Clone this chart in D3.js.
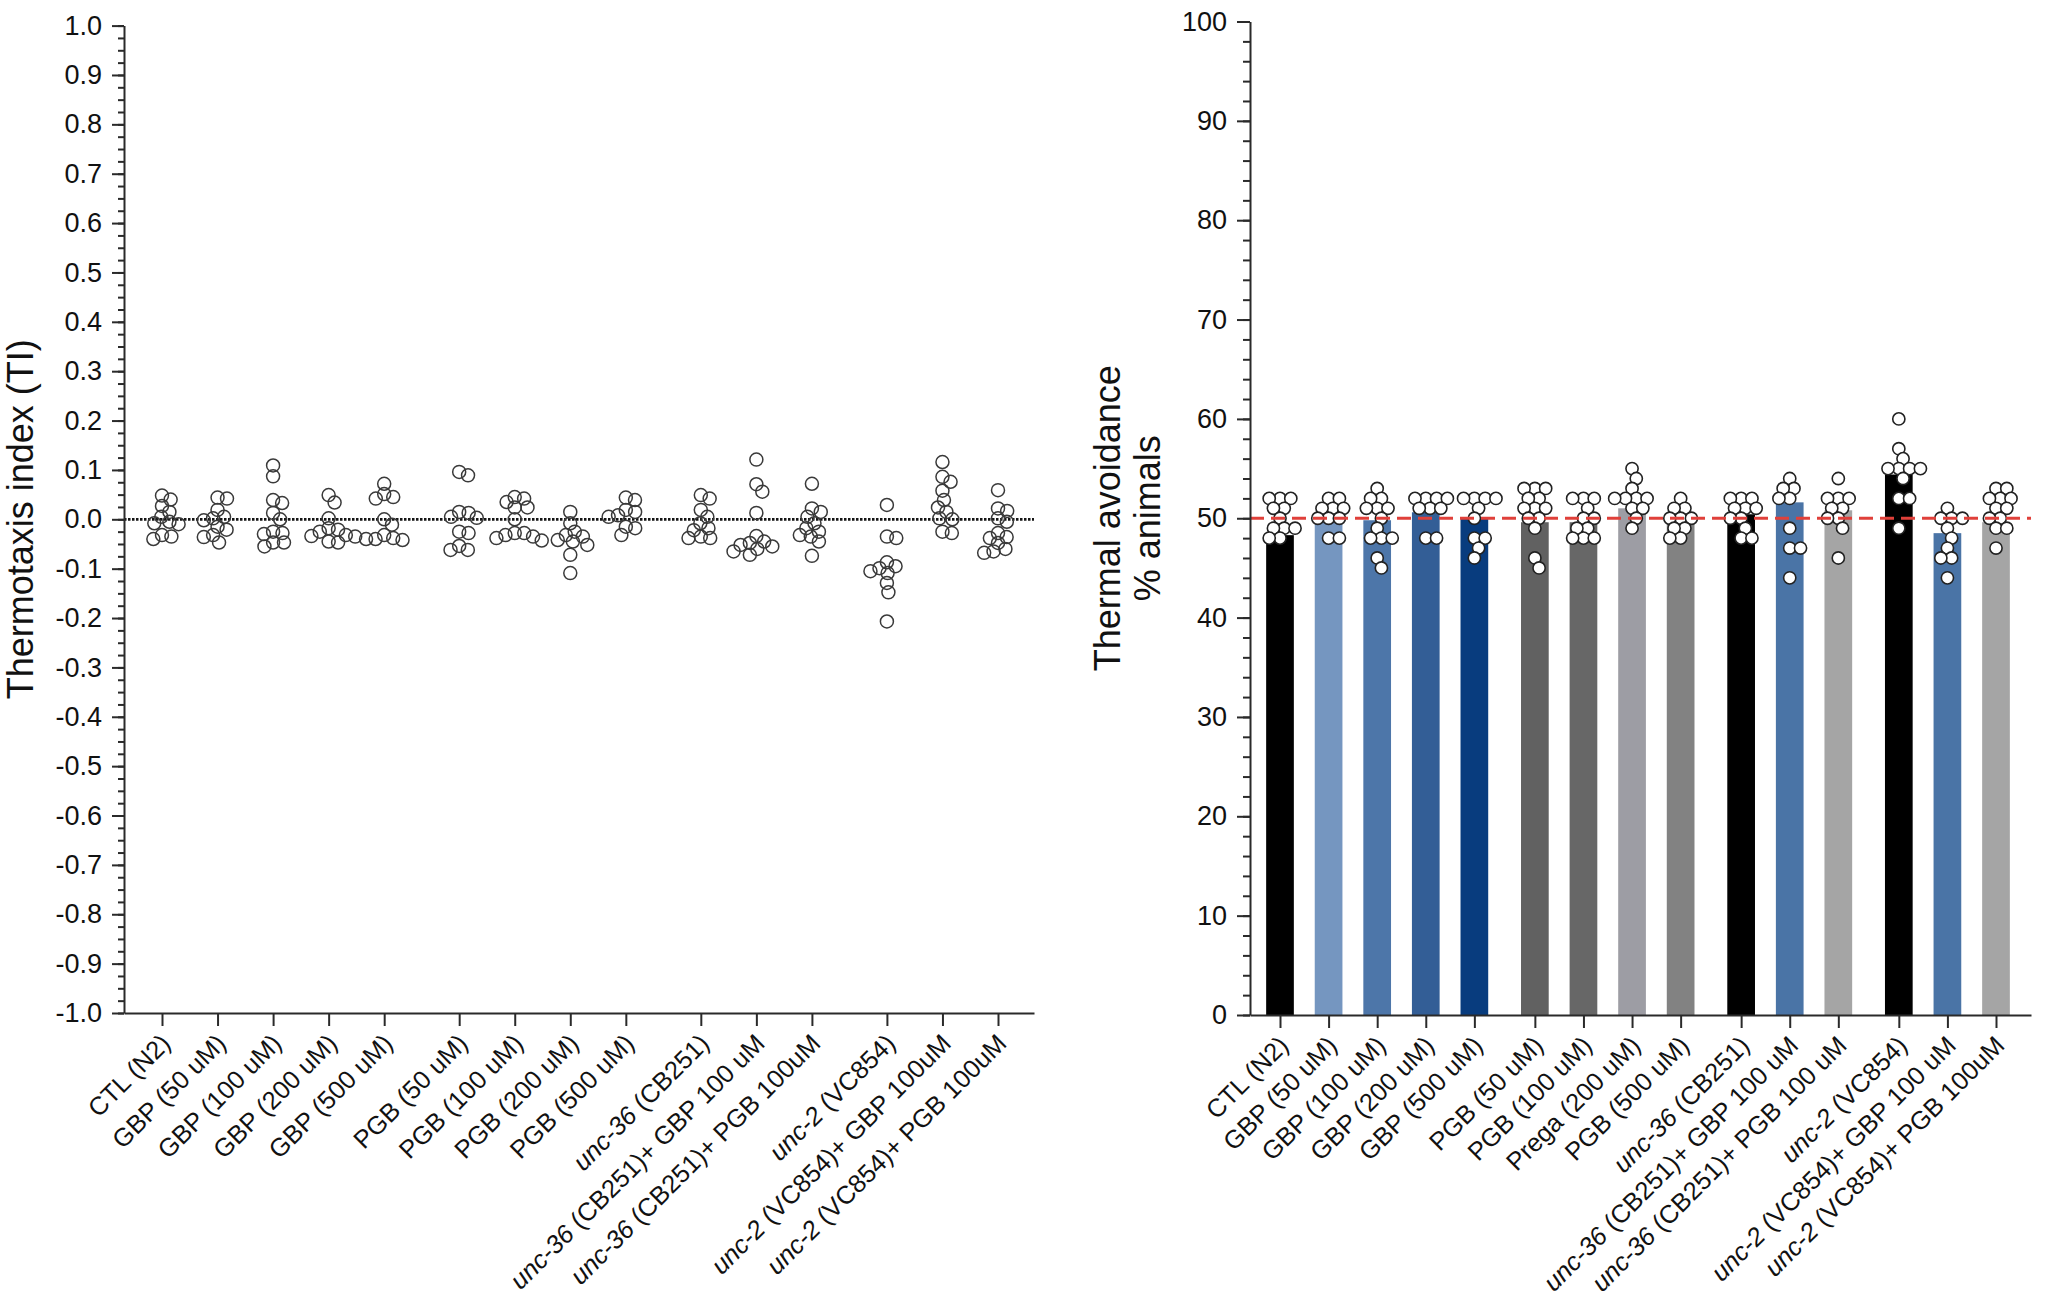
<!DOCTYPE html>
<html>
<head>
<meta charset="utf-8">
<script src="https://cdn.jsdelivr.net/npm/d3@7"></script>
<style>
  body { margin: 0; background: #fff; }
  svg { display: block; }
  text { font-family: "Liberation Sans", Arial, sans-serif; fill: #111; }
  .axis path, .axis line { stroke: #2a2a2a; stroke-width: 2px; }
  .axis text { font-size: 27px; fill: #111; }
</style>
</head>
<body>
<div id="chart"></div>
<script>

// ---- data ----
const tiCategories = [
  'CTL (N2)', 'GBP (50 uM)', 'GBP (100 uM)', 'GBP (200 uM)', 'GBP (500 uM)',
  'PGB (50 uM)', 'PGB (100 uM)', 'PGB (200 uM)', 'PGB (500 uM)',
  'unc-36 (CB251)', 'unc-36 (CB251)+ GBP 100 uM', 'unc-36 (CB251)+ PGB 100uM',
  'unc-2 (VC854)', 'unc-2 (VC854)+ GBP 100uM', 'unc-2 (VC854)+ PGB 100uM'
];
const avoidCategories = [
  'CTL (N2)', 'GBP (50 uM)', 'GBP (100 uM)', 'GBP (200 uM)', 'GBP (500 uM)',
  'PGB (50 uM)', 'PGB (100 uM)', 'Prega (200 uM)', 'PGB (500 uM)',
  'unc-36 (CB251)', 'unc-36 (CB251)+ GBP 100 uM', 'unc-36 (CB251)+ PGB 100 uM',
  'unc-2 (VC854)', 'unc-2 (VC854)+ GBP 100 uM', 'unc-2 (VC854)+ PGB 100uM'
];
// which block each category sits in (blocks are separated by a wider gap)
const categoryGroups = [0, 0, 0, 0, 0, 1, 1, 1, 1, 2, 2, 2, 3, 3, 3];

// thermotaxis index, one array per category
const tiValues = [
  [0.048, 0.04, 0.027, 0.015, 0.005, -0.005, -0.008, -0.01, -0.032, -0.035, -0.04],
  [0.044, 0.042, 0.019, 0.005, 0.002, -0.002, -0.015, -0.021, -0.032, -0.036, -0.047],
  [0.109, 0.087, 0.039, 0.033, 0.013, 0.0, -0.025, -0.028, -0.03, -0.047, -0.047, -0.055],
  [0.049, 0.034, 0.002, -0.018, -0.021, -0.025, -0.032, -0.034, -0.035, -0.045, -0.047],
  [0.072, 0.051, 0.045, 0.042, 0.0, -0.011, -0.032, -0.038, -0.04, -0.04, -0.042],
  [0.096, 0.089, 0.015, 0.013, 0.005, 0.003, -0.025, -0.028, -0.054, -0.062, -0.062],
  [0.045, 0.042, 0.035, 0.024, 0.024, 0.0, -0.028, -0.028, -0.032, -0.035, -0.038, -0.043],
  [0.015, -0.008, -0.025, -0.032, -0.035, -0.042, -0.045, -0.052, -0.072, -0.109],
  [0.044, 0.039, 0.019, 0.015, 0.008, 0.005, -0.015, -0.018, -0.032],
  [0.049, 0.042, 0.019, 0.005, -0.008, -0.018, -0.022, -0.035, -0.038, -0.038],
  [0.121, 0.071, 0.056, 0.013, -0.034, -0.045, -0.048, -0.052, -0.055, -0.06, -0.065, -0.072],
  [0.072, 0.022, 0.015, 0.005, -0.008, -0.018, -0.025, -0.032, -0.035, -0.045, -0.074],
  [0.029, -0.035, -0.038, -0.087, -0.095, -0.099, -0.105, -0.109, -0.129, -0.148, -0.207],
  [0.116, 0.086, 0.076, 0.058, 0.039, 0.024, 0.015, 0.002, 0.0, -0.025, -0.028],
  [0.059, 0.022, 0.017, 0.002, -0.005, -0.028, -0.036, -0.038, -0.048, -0.06, -0.065, -0.068]
];

// thermal avoidance (% animals): bar means and single experiments
const avoidMeans = [48.3, 50, 49.8, 50.6, 50, 49.6, 49.6, 51, 49.5, 50.4, 51.6, 50.8, 54.4, 48.5, 49.6];
const avoidValues = [
  [52, 52, 52, 51, 51, 50, 49, 49, 49, 48, 48],
  [52, 52, 51, 51, 51, 50, 50, 50, 48, 48],
  [53, 52, 52, 51, 51, 51, 50, 49, 48, 48, 48, 46, 45],
  [52, 52, 52, 52, 51, 51, 51, 48, 48],
  [52, 52, 52, 52, 51, 50, 48, 48, 47, 46],
  [53, 53, 53, 52, 52, 51, 51, 51, 50, 50, 49, 46, 45],
  [52, 52, 52, 51, 50, 50, 49, 49, 48, 48, 48],
  [55, 54, 53, 52, 52, 52, 52, 51, 51, 50, 49],
  [52, 51, 51, 50, 50, 50, 49, 49, 48, 48],
  [52, 52, 52, 51, 51, 51, 50, 50, 49, 48, 48],
  [54, 53, 53, 52, 52, 49, 47, 47, 44],
  [54, 52, 52, 52, 51, 51, 50, 50, 49, 46],
  [60, 57, 56, 55, 55, 55, 55, 54, 52, 52, 49],
  [51, 50, 50, 50, 49, 48, 47, 46, 46, 44],
  [53, 53, 52, 52, 52, 51, 51, 50, 50, 49, 49, 47]
];
const barColors = [
  '#000000', '#7596c0', '#4d76a9', '#335e96', '#083c7e',
  '#616161', '#676767', '#9d9da4', '#828282',
  '#000000', '#4a74a6', '#a5a5a5',
  '#000000', '#4a74a6', '#a5a5a5'
];

// tick labels
const tiTickLabels = ['1.0', '0.9', '0.8', '0.7', '0.6', '0.5', '0.4', '0.3', '0.2', '0.1', '0.0',
  '-0.1', '-0.2', '-0.3', '-0.4', '-0.5', '-0.6', '-0.7', '-0.8', '-0.9', '-1.0'];
const avoidTickLabels = ['0', '10', '20', '30', '40', '50', '60', '70', '80', '90', '100'];

const tiReference = 0;
const avoidReference = 50;


/**
 * Places points of one column next to each other (simple beeswarm)
 */
function swarm(values, yScale, cx, spacing) {
  let placed = [];
  values.forEach(v => {
    let y = yScale(v);
    let candidates = [0];
    placed.forEach(p => {
      let dy = p.y - y;
      if (Math.abs(dy) < spacing) {
        let dx = Math.sqrt(spacing * spacing - dy * dy);
        candidates.push(p.dx + dx, p.dx - dx);
      }
    });
    candidates.sort((a, b) => Math.abs(a) - Math.abs(b));
    let best = candidates.find(c => placed.every(p => (p.dx - c) ** 2 + (p.y - y) ** 2 >= spacing * spacing - 0.01));
    placed.push({value: v, y: y, dx: best});
  });
  return placed.map(p => ({value: p.value, x: cx + p.dx, y: p.y}));
}

// category label, gene name in italics
function writeLabel(sel, label) {
  let m = label.match(/^(unc-\d+)(.*)$/);
  if (m) {
    sel.append('tspan').style('font-style', 'italic').text(m[1]);
    sel.append('tspan').text(m[2]);
  } else {
    sel.append('tspan').text(label);
  }
}


class ColumnChart {

  constructor(_config) {
    this.config = _config;
    this.initVis();
  }

  initVis() {
    let vis = this;
    let c = vis.config;

    // slot of every category including the gap between blocks
    vis.slots = c.categories.map((d, i) => i + categoryGroups[i] * c.groupGap);
    let lastSlot = d3.max(vis.slots);
    let step = (c.lastTick - c.firstTick) / lastSlot;

    vis.xScale = d3.scaleLinear()
        .domain([-(c.firstTick - c.left) / step, lastSlot + (c.right - c.lastTick) / step])
        .range([c.left, c.right]);

    vis.yScale = d3.scaleLinear()
        .domain(c.yDomain)
        .range([c.bottom, c.top]);

    vis.g = d3.select('#svg').append('g');

    vis.renderVis();
  }

  renderVis() {
    let vis = this;
    let c = vis.config;

    // bars
    if (c.means) {
      let bw = (vis.xScale(1) - vis.xScale(0)) * c.barWidth;
      vis.g.selectAll('.bar')
          .data(c.means)
          .join('rect')
          .attr('class', 'bar')
          .attr('x', (d, i) => vis.xScale(vis.slots[i]) - bw / 2)
          .attr('y', d => vis.yScale(d))
          .attr('width', bw)
          .attr('height', d => vis.yScale(c.yDomain[0]) - vis.yScale(d))
          .attr('fill', (d, i) => c.colors[i]);
    }

    // reference line (under the dots for the index plot, on top for the bar plot)
    let refLine = () => vis.g.append('line')
        .attr('x1', c.left)
        .attr('x2', vis.xScale.range()[1])
        .attr('y1', vis.yScale(c.reference))
        .attr('y2', vis.yScale(c.reference))
        .attr('stroke', c.refColor)
        .attr('stroke-width', c.refWidth)
        .attr('stroke-dasharray', c.refDash);

    if (!c.means) refLine();

    // dots
    c.values.forEach((vals, i) => {
      let pts = swarm(vals, vis.yScale, vis.xScale(vis.slots[i]), c.dotSpacing);
      vis.g.append('g')
          .selectAll('circle')
          .data(pts)
          .join('circle')
          .attr('cx', d => d.x)
          .attr('cy', d => d.y)
          .attr('r', c.dotRadius)
          .attr('fill', c.dotFill)
          .attr('stroke', c.dotStroke)
          .attr('stroke-width', c.dotStrokeWidth);
    });

    if (c.means) refLine();

    // y axis: minor ticks first, then major ticks with labels
    let majorVals = c.tickLabels.map(t => +t);
    vis.g.append('g')
        .attr('class', 'axis')
        .attr('transform', `translate(${c.left},0)`)
        .call(d3.axisLeft(vis.yScale)
            .tickValues(d3.range(c.yDomain[0], c.yDomain[1] + c.minorStep / 2, c.minorStep))
            .tickSize(c.minorTick)
            .tickSizeOuter(0)
            .tickFormat(''))
        .select('.domain').remove();

    vis.g.append('g')
        .attr('class', 'axis')
        .attr('transform', `translate(${c.left},0)`)
        .call(d3.axisLeft(vis.yScale)
            .tickValues(majorVals)
            .tickSize(c.majorTick)
            .tickSizeOuter(0)
            .tickPadding(10)
            .tickFormat((d, i) => c.tickLabels[i]));

    // x axis
    vis.g.append('g')
        .attr('class', 'axis')
        .attr('transform', `translate(0,${c.bottom})`)
        .call(d3.axisBottom(vis.xScale)
            .tickValues(vis.slots)
            .tickSize(13)
            .tickSizeOuter(0)
            .tickFormat(''));

    vis.g.selectAll('.cat-label')
        .data(c.categories)
        .join('text')
        .attr('class', 'cat-label')
        .attr('transform', (d, i) => `translate(${vis.xScale(vis.slots[i]) + 10},${c.bottom + 32}) rotate(-45)`)
        .attr('text-anchor', 'end')
        .style('font-size', '25.5px')
        .each(function(d) { writeLabel(d3.select(this), d); });

    // axis title
    let title = vis.g.append('text')
        .attr('text-anchor', 'middle')
        .style('font-size', '36px');
    c.title.forEach((line, k) => {
      title.append('tspan')
          .attr('x', 0)
          .attr('y', c.titleX[k])
          .text(line);
    });
    title.attr('transform', `translate(0,${(c.top + c.bottom) / 2}) rotate(-90)`);
  }
}

d3.select('#chart').append('svg')
    .attr('id', 'svg')
    .attr('width', 2055)
    .attr('height', 1316);

// Left panel: thermotaxis index
new ColumnChart({
  categories: tiCategories,
  values: tiValues,
  yDomain: [-1, 1],
  tickLabels: tiTickLabels,
  minorStep: 0.025,
  majorTick: 12,
  minorTick: 6,
  left: 124, right: 1034, top: 25.6, bottom: 1013,
  firstTick: 162, lastTick: 998, groupGap: 0.35,
  reference: tiReference,
  refColor: '#151515', refWidth: 2.8, refDash: '2.5,1.5',
  dotRadius: 6.5, dotSpacing: 9.5, dotFill: 'none', dotStroke: '#3a3a3a', dotStrokeWidth: 1.5,
  title: ['Thermotaxis index (TI)'],
  titleX: [33]
});

// Right panel: thermal avoidance
new ColumnChart({
  categories: avoidCategories,
  values: avoidValues,
  means: avoidMeans,
  colors: barColors,
  barWidth: 0.57,
  yDomain: [0, 100],
  tickLabels: avoidTickLabels,
  minorStep: 2,
  majorTick: 13,
  minorTick: 7,
  left: 1250, right: 2031, top: 21.5, bottom: 1015,
  firstTick: 1280, lastTick: 1996, groupGap: 0.245,
  reference: avoidReference,
  refColor: '#e0403a', refWidth: 3, refDash: '14,7',
  dotRadius: 6.1, dotSpacing: 10.8, dotFill: '#ffffff', dotStroke: '#222222', dotStrokeWidth: 1.6,
  title: ['Thermal avoidance', '% animals'],
  titleX: [1120, 1160]
});

</script>
</body>
</html>
